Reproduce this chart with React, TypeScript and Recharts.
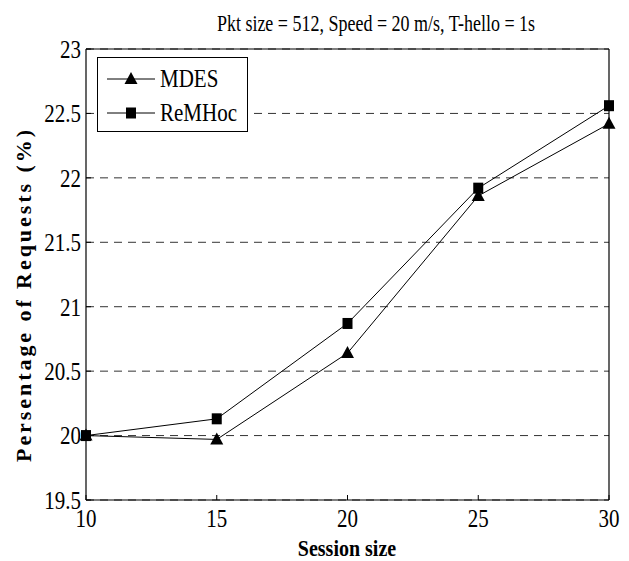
import React from 'react';
import { LineChart, Line, XAxis, YAxis, CartesianGrid, Legend, Label } from 'recharts';

const sessionSizes = [10, 15, 20, 25, 30];
const mdesValues = [20, 19.97, 20.64, 21.86, 22.42];
const remhocValues = [20, 20.13, 20.87, 21.92, 22.56];
const xTicks = [10, 15, 20, 25, 30];
const yTicks = [19.5, 20, 20.5, 21, 21.5, 22, 22.5, 23];
const chartTitle = 'Pkt size = 512, Speed = 20 m/s, T-hello = 1s';
const xLabel = 'Session size';
const yLabel = 'Persentage of Requests (%)';

const data = sessionSizes.map((size, i) => ({
  size,
  MDES: mdesValues[i],
  ReMHoc: remhocValues[i],
}));

const serif = "'Liberation Serif', Tinos, 'Times New Roman', 'DejaVu Serif', serif";
const stretch = 1.2;

const TriangleDot = (props: any) => {
  const { cx, cy } = props;
  if (cx == null || cy == null) return null;
  return (
    <polygon
      points={`${cx},${cy - 7} ${cx - 6.5},${cy + 5} ${cx + 6.5},${cy + 5}`}
      fill="#000"
    />
  );
};

const SquareDot = (props: any) => {
  const { cx, cy } = props;
  if (cx == null || cy == null) return null;
  return <rect x={cx - 5} y={cy - 5.5} width={10} height={11} fill="#000" />;
};

const XTick = ({ x, y, payload }: any) => (
  <text
    transform={`translate(${x},${y}) scale(1,${stretch})`}
    textAnchor="middle"
    fontSize={21}
    fontFamily={serif}
    fill="#000"
    dy="0.71em"
  >
    {payload.value}
  </text>
);

const YTick = ({ x, y, payload }: any) => (
  <text
    transform={`translate(${x},${y}) scale(1,${stretch})`}
    textAnchor="end"
    fontSize={21}
    fontFamily={serif}
    fill="#000"
    dy="0.35em"
  >
    {payload.value}
  </text>
);

const markerFor: Record<string, (cx: number, cy: number) => React.ReactNode> = {
  MDES: (cx, cy) => <TriangleDot cx={cx} cy={cy} />,
  ReMHoc: (cx, cy) => <SquareDot cx={cx} cy={cy} />,
};

const LegendBox = ({ payload }: any) => (
  <div
    style={{
      boxSizing: 'border-box',
      width: 151,
      height: 75,
      border: '1px solid #000',
      background: '#fff',
      paddingTop: 4,
      paddingLeft: 9,
    }}
  >
    {(payload || []).map((item: any) => (
      <div key={item.value} style={{ display: 'flex', alignItems: 'center', height: 34 }}>
        <svg width={53} height={20}>
          <line x1={0} y1={10} x2={48} y2={10} stroke="#000" strokeWidth={1} />
          {markerFor[item.value]?.(24, 10)}
        </svg>
        <span
          style={{
            display: 'inline-block',
            fontFamily: serif,
            fontSize: 21,
            color: '#000',
            transform: `scaleY(${stretch})`,
            lineHeight: 1,
          }}
        >
          {item.value}
        </span>
      </div>
    ))}
  </div>
);

export default function App() {
  return (
    <div style={{ position: 'absolute', left: 0, top: 0, background: '#fff' }}>
      <LineChart
        width={629}
        height={561}
        data={data}
        margin={{ top: 48, right: 19, bottom: 5, left: 6 }}
      >
        <CartesianGrid vertical={false} stroke="#333" strokeDasharray="8 6" />
        <XAxis
          dataKey="size"
          type="number"
          domain={[10, 30]}
          ticks={xTicks}
          height={56}
          tickSize={-5}
          tickMargin={14}
          tick={<XTick />}
          axisLine={{ stroke: '#000', strokeWidth: 1.2 }}
          tickLine={{ stroke: '#000' }}
        >
          <Label
            content={() => (
              <text
                transform={`translate(347,556) scale(1,${stretch})`}
                textAnchor="middle"
                fontSize={20}
                fontWeight="bold"
                fontFamily={serif}
                fill="#000"
              >
                {xLabel}
              </text>
            )}
          />
        </XAxis>
        <XAxis
          xAxisId="top"
          orientation="top"
          type="number"
          domain={[10, 30]}
          ticks={xTicks}
          height={1}
          tickSize={-5}
          tick={false}
          axisLine={{ stroke: '#000', strokeWidth: 1.2 }}
          tickLine={{ stroke: '#000' }}
        >
          <Label
            content={() => (
              <text
                transform={`translate(376,31) scale(1,1.3)`}
                textAnchor="middle"
                fontSize={18}
                fontFamily={serif}
                fill="#000"
              >
                {chartTitle}
              </text>
            )}
          />
        </XAxis>
        <YAxis
          type="number"
          domain={[19.5, 23]}
          ticks={yTicks}
          width={80}
          tickSize={-5}
          tickMargin={10}
          tick={<YTick />}
          axisLine={{ stroke: '#000', strokeWidth: 1.2 }}
          tickLine={{ stroke: '#000' }}
        >
          <Label
            content={() => (
              <text
                transform="translate(31,296) rotate(-90)"
                textAnchor="middle"
                fontSize={22}
                fontWeight="bold"
                fontFamily={serif}
                fill="#000"
                textLength={332}
              >
                {yLabel}
              </text>
            )}
          />
        </YAxis>
        <YAxis
          yAxisId="right"
          orientation="right"
          type="number"
          domain={[19.5, 23]}
          ticks={yTicks}
          width={1}
          tickSize={-5}
          tick={false}
          axisLine={{ stroke: '#000', strokeWidth: 1.2 }}
          tickLine={{ stroke: '#000' }}
        />
        <Legend
          layout="horizontal"
          verticalAlign="middle"
          align="center"
          content={<LegendBox />}
          wrapperStyle={{ left: 97, top: 57, width: 'auto', height: 'auto' }}
        />
        <Line
          type="linear"
          dataKey="MDES"
          name="MDES"
          stroke="#000"
          strokeWidth={1}
          dot={<TriangleDot />}
          activeDot={false}
          isAnimationActive={false}
        />
        <Line
          type="linear"
          dataKey="ReMHoc"
          name="ReMHoc"
          stroke="#000"
          strokeWidth={1}
          dot={<SquareDot />}
          activeDot={false}
          isAnimationActive={false}
        />
      </LineChart>
    </div>
  );
}
